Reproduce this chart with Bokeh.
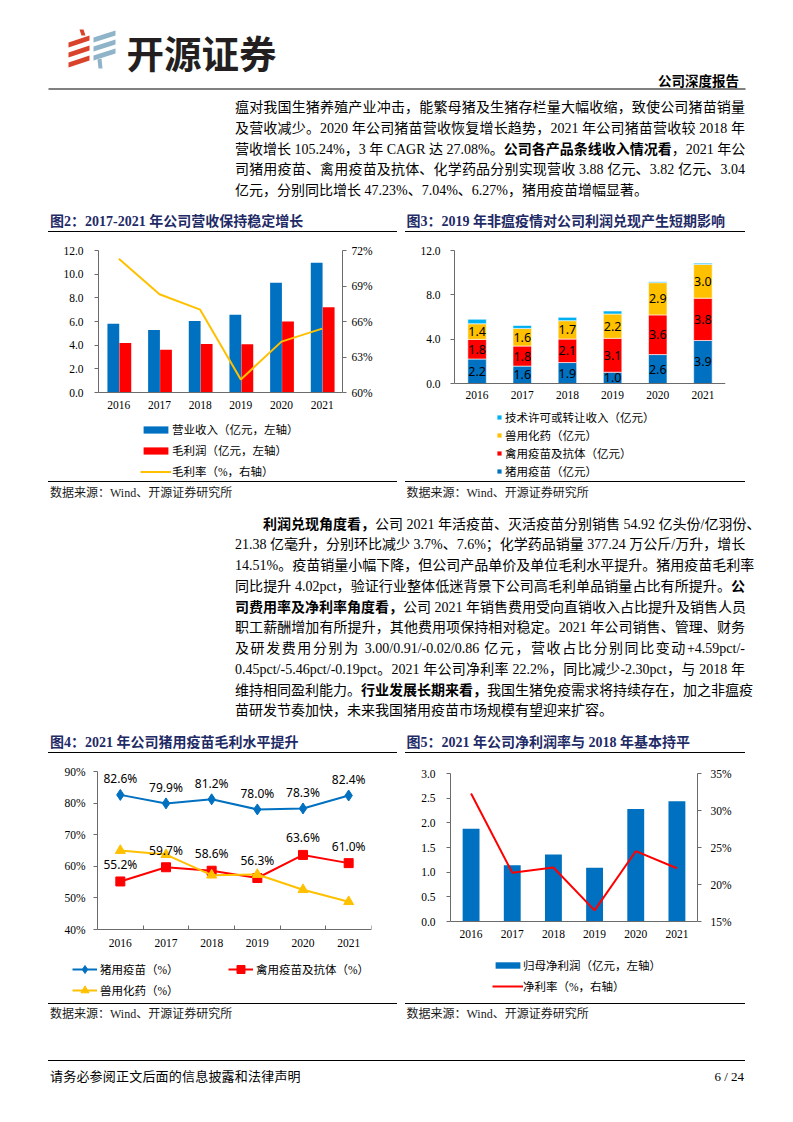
from bokeh.plotting import figure
from bokeh.models import (ColumnDataSource, FactorRange, Range1d, LinearAxis, FixedTicker,
                          PrintfTickFormatter, Legend, LegendItem, Div)
from bokeh.layouts import column, row
from bokeh.core.properties import value
from bokeh.transform import dodge
from bokeh.embed import file_html
from bokeh.resources import INLINE

# ---------------- data ----------------
years = ["2016", "2017", "2018", "2019", "2020", "2021"]

# Fig 2: revenue / gross profit (亿元) and gross margin (%)
revenue = [5.82, 5.28, 6.05, 6.58, 9.27, 10.96]
gross_profit = [4.18, 3.62, 4.10, 4.07, 5.99, 7.20]
gross_margin = [71.3, 68.3, 67.0, 61.1, 64.3, 65.4]

# Fig 3: revenue by product line (亿元)
pig_vaccine_rev = [2.21, 1.57, 1.89, 1.02, 2.61, 3.88]
poultry_vaccine_rev = [1.77, 1.81, 2.12, 3.06, 3.58, 3.82]
chem_drug_rev = [1.41, 1.59, 1.66, 2.19, 2.91, 3.04]
tech_license_rev = [0.41, 0.27, 0.30, 0.27, 0.09, 0.12]

# Fig 4: gross margin by product line (%)
pig_margin = [82.6, 79.9, 81.2, 78.0, 78.3, 82.4]
poultry_margin = [55.2, 59.7, 58.6, 56.3, 63.6, 61.0]
chem_margin = [65.0, 63.7, 57.2, 57.4, 52.6, 48.8]

# Fig 5: net profit (亿元) and net margin (%)
net_profit = [1.88, 1.14, 1.36, 1.09, 2.28, 2.44]
net_margin = [32.3, 21.6, 22.3, 16.5, 24.5, 22.2]

# tick labels
fig2_left_ticks = [0, 2, 4, 6, 8, 10, 12]
fig2_right_ticks = [60, 63, 66, 69, 72]
fig3_left_ticks = [0, 4, 8, 12]
fig4_left_ticks = [40, 50, 60, 70, 80, 90]
fig5_left_ticks = [0.0, 0.5, 1.0, 1.5, 2.0, 2.5, 3.0]
fig5_right_ticks = [15, 20, 25, 30, 35]

# texts
para1_lines = [
    "瘟对我国生猪养殖产业冲击，能繁母猪及生猪存栏量大幅收缩，致使公司猪苗销量",
    "及营收减少。2020 年公司猪苗营收恢复增长趋势，2021 年公司猪苗营收较 2018 年",
    "营收增长 105.24%，3 年 CAGR 达 27.08%。<b>公司各产品条线收入情况看</b>，2021 年公",
    "司猪用疫苗、禽用疫苗及抗体、化学药品分别实现营收 3.88 亿元、3.82 亿元、3.04",
    "亿元，分别同比增长 47.23%、7.04%、6.27%，猪用疫苗增幅显著。",
]
para2_lines = [
    "<b>利润兑现角度看，</b>公司 2021 年活疫苗、灭活疫苗分别销售 54.92 亿头份/亿羽份、",
    "21.38 亿毫升，分别环比减少 3.7%、7.6%；化学药品销量 377.24 万公斤/万升，增长",
    "14.51%。疫苗销量小幅下降，但公司产品单价及单位毛利水平提升。猪用疫苗毛利率",
    "同比提升 4.02pct，验证行业整体低迷背景下公司高毛利单品销量占比有所提升。<b>公</b>",
    "<b>司费用率及净利率角度看，</b>公司 2021 年销售费用受向直销收入占比提升及销售人员",
    "职工薪酬增加有所提升，其他费用项保持相对稳定。2021 年公司销售、管理、财务",
    "及研发费用分别为 3.00/0.91/-0.02/0.86 亿元，营收占比分别同比变动+4.59pct/-",
    "0.45pct/-5.46pct/-0.19pct。2021 年公司净利率 22.2%，同比减少-2.30pct，与 2018 年",
    "维持相同盈利能力。<b>行业发展长期来看，</b>我国生猪免疫需求将持续存在，加之非瘟疫",
    "苗研发节奏加快，未来我国猪用疫苗市场规模有望迎来扩容。",
]
SOURCE = "数据来源：Wind、开源证券研究所"

# ---------------- styles ----------------
BLUE = "#0070C0"
RED = "#FF0000"
YELLOW = "#FFC000"
CYAN = "#00B0F0"
NAVY = "#1F2B66"
AXC = "#6B6B6B"
SERIF_CJK = "'Liberation Serif', 'Noto Sans CJK SC'"
LABEL_FONT = "'Noto Sans', 'Noto Sans CJK SC'"


def ext_range(lo, hi, plot_px, extra_below, extra_above=0):
    """Range whose [lo, hi] spans plot_px pixels, extended by extra pixels below/above
    (room for legend and labels inside the frame)."""
    k = (hi - lo) / plot_px
    return Range1d(lo - extra_below * k, hi + extra_above * k)


def make_fig(x_range, y_range, w, h, bl, br, bt):
    p = figure(x_range=x_range, y_range=y_range, width=w, height=h,
               min_border_left=bl, min_border_right=br, min_border_top=bt, min_border_bottom=0,
               output_backend="svg", toolbar_location=None)
    p.outline_line_color = None
    p.grid.visible = False
    p.margin = 0
    return p


def style_axis(ax, tick_out, standoff):
    ax.axis_line_color = AXC
    ax.axis_line_width = 1
    ax.major_tick_line_color = AXC if tick_out else None
    ax.major_tick_out = tick_out
    ax.major_tick_in = 0
    ax.minor_tick_line_color = None
    ax.major_label_standoff = standoff
    ax.major_label_text_font = "Liberation Serif"
    ax.major_label_text_font_size = "11.5px"
    ax.major_label_text_color = "#000000"


def add_legend(p, items, loc, gw, gh, lh, sp, so):
    lg = Legend(items=items, location=loc, orientation="vertical",
                glyph_width=gw, glyph_height=gh, label_height=lh, spacing=sp,
                label_standoff=so, padding=0, margin=0,
                border_line_color=None, background_fill_alpha=0.0,
                label_text_font=SERIF_CJK, label_text_font_size="11.5px",
                label_text_color="#000000")
    p.add_layout(lg)
    return lg


# ---------------- html helpers ----------------
def txt(x, yc, s, size, lh, font=SERIF_CJK, weight="normal", color="#000000", extra=""):
    top = yc - lh / 2
    return (f'<div style="position:absolute;left:{x}px;top:{top:.2f}px;white-space:nowrap;'
            f'font-family:{font};font-size:{size}px;line-height:{lh}px;font-weight:{weight};'
            f'color:{color};{extra}">{s}</div>')


def hline(x, yc, w, t, color):
    return (f'<div style="position:absolute;left:{x}px;top:{yc - t / 2:.2f}px;width:{w}px;'
            f'height:{t}px;background:{color};"></div>')


def para_line(x, top, w, s, justify, size=14, lh=20.75):
    ta = "justify" if justify else "left"
    return (f'<div style="position:absolute;left:{x}px;top:{top:.2f}px;width:{w}px;height:{lh}px;'
            f'white-space:nowrap;text-align:{ta};text-align-last:{ta};font-family:{SERIF_CJK};'
            f'font-size:{size}px;line-height:{lh}px;color:#000000;">{s}</div>')


def box(w, h, inner):
    return Div(text=f'<div style="position:relative;width:{w}px;height:{h}px;">{inner}</div>',
               width=w, height=h, margin=0)


def title_div(w, h, text, tx, tyc, lx, lw, lyc):
    inner = txt(tx, tyc, text, 14, 18, weight="bold", color=NAVY) + hline(lx, lyc, lw, 1.4, "#000000")
    return box(w, h, inner)


def source_div(w, h, lx, lw, lyc, tx, tyc):
    inner = hline(lx, lyc, lw, 1.4, "#000000") + txt(tx, tyc, SOURCE, 12, 14, color="#1a1a1a")
    return box(w, h, inner)


# ---------------- header ----------------
hdr = figure(width=793, height=98, x_range=Range1d(0, 793), y_range=Range1d(98, 0),
             output_backend="svg", toolbar_location=None, min_border=0,
             x_axis_location=None, y_axis_location=None)
hdr.outline_line_color = None
hdr.grid.visible = False
hdr.margin = 0
red_xs = [[79, 83, 85, 81], [68, 89, 89, 68], [68, 89, 89, 68], [68, 89, 89, 68]]
red_ys = [[29, 29, 35, 35], [42, 35, 40, 47], [52, 45, 50, 57], [62, 55, 60, 67]]
blue_xs = [[93, 115, 115, 93], [93, 115, 115, 93], [93, 115, 115, 93], [97, 101, 102, 98]]
blue_ys = [[37, 30, 35, 42], [46, 39, 44, 51], [55, 48, 53, 60], [59, 58, 68, 68]]
hdr.patches(xs=red_xs, ys=red_ys, color="#D9432C", line_color=None)
hdr.patches(xs=blue_xs, ys=blue_ys, color="#8FB3C8", line_color=None)
hdr.text(x=[126], y=[51], text=["开源证券"], text_font=value("Noto Sans CJK SC"),
         text_font_style="bold", text_font_size="37.5px", text_baseline="middle", text_color="#231F20")
hdr.text(x=[738.5], y=[79.5], text=["公司深度报告"], text_font=value("Noto Sans CJK SC"),
         text_font_style="bold", text_font_size="13.5px", text_baseline="middle", text_align="right",
         text_color="#000000")
hdr.line(x=[48, 745], y=[88.5, 88.5], line_width=2, line_color="#808080")

# ---------------- paragraph 1 ----------------
LH = 20.75
p1_inner = "".join(para_line(235, i * LH, 510, s, i < len(para1_lines) - 1)
                   for i, s in enumerate(para1_lines))
para1 = box(793, 108, p1_inner)

# ---------------- figure 2 ----------------
xs = [i + 0.5 for i in range(len(years))]
src2 = ColumnDataSource(dict(year=years, rev=revenue, gp=gross_profit, gm=gross_margin))
p2 = make_fig(FactorRange(*years, range_padding=0), ext_range(0, 12, 142, 88), 400, 246, 98, 58, 16)
p2.extra_y_ranges = {"pct": ext_range(60, 72, 142, 88)}
r_rev = p2.vbar(x=dodge("year", -0.135, range=p2.x_range), top="rev", width=0.29,
                source=src2, fill_color=BLUE, line_color=None)
r_gp = p2.vbar(x=dodge("year", 0.16, range=p2.x_range), top="gp", width=0.29,
               source=src2, fill_color=RED, line_color=None)
r_gm = p2.line(x="year", y="gm", y_range_name="pct", source=src2, line_color=YELLOW, line_width=2)
left2 = p2.yaxis[0]
left2.ticker = FixedTicker(ticks=fig2_left_ticks)
left2.formatter = PrintfTickFormatter(format="%.1f")
left2.bounds = (0, 12)
style_axis(left2, 4, 11)
right2 = LinearAxis(y_range_name="pct", ticker=FixedTicker(ticks=fig2_right_ticks),
                    formatter=PrintfTickFormatter(format="%d%%"), bounds=(60, 72))
p2.add_layout(right2, "right")
style_axis(right2, 4, 5)
bx2 = p2.xaxis[0]
bx2.fixed_location = 0
style_axis(bx2, 0, 8)
add_legend(p2, [LegendItem(label="营业收入（亿元，左轴）", renderers=[r_rev]),
                LegendItem(label="毛利润（亿元，左轴）", renderers=[r_gp]),
                LegendItem(label="毛利率（%，右轴）", renderers=[r_gm])],
           (42, 0), 31, 9, 18, 3, 1)

# ---------------- figure 3 ----------------
stack_keys = ["pig", "poultry", "chem", "tech"]
src3 = ColumnDataSource(dict(year=years, pig=pig_vaccine_rev, poultry=poultry_vaccine_rev,
                             chem=chem_drug_rev, tech=tech_license_rev))
p3 = make_fig(FactorRange(*years, range_padding=0), ext_range(0, 12, 133, 97), 393, 246, 54, 68, 16)
r3 = p3.vbar_stack(stack_keys, x="year", width=0.41, source=src3,
                   fill_color=[BLUE, RED, YELLOW, CYAN], line_color="white", line_width=0.6)
lab_x, lab_y, lab_t = [], [], []
base = [0.0] * len(years)
for series in [pig_vaccine_rev, poultry_vaccine_rev, chem_drug_rev]:
    for i, v in enumerate(series):
        lab_x.append(years[i])
        lab_y.append(base[i] + v / 2)
        lab_t.append(f"{v:.1f}")
        base[i] += v
p3.text(x=lab_x, y=lab_y, text=lab_t, text_align="center", text_baseline="middle",
        text_font=value(LABEL_FONT), text_font_size="12.5px", text_color="#000000")
left3 = p3.yaxis[0]
left3.ticker = FixedTicker(ticks=fig3_left_ticks)
left3.formatter = PrintfTickFormatter(format="%.1f")
left3.bounds = (0, 12)
style_axis(left3, 4, 10)
bx3 = p3.xaxis[0]
bx3.fixed_location = 0
style_axis(bx3, 0, 7)
add_legend(p3, [LegendItem(label="技术许可或转让收入（亿元）", renderers=[r3[3]]),
                LegendItem(label="兽用化药（亿元）", renderers=[r3[2]]),
                LegendItem(label="禽用疫苗及抗体（亿元）", renderers=[r3[1]]),
                LegendItem(label="猪用疫苗（亿元）", renderers=[r3[0]])],
           (42, 0), 6, 6, 18, 0, 3)

# ---------------- figure 4 ----------------
# frame spans the whole figure on the left and top (y axis drawn at x = 0)
p4 = make_fig(Range1d(-97 * len(years) / 274, len(years)), ext_range(40, 90, 158, 72, 14),
              400, 244, 0, 29, 0)
l_pig = p4.line(xs, pig_margin, line_color=BLUE, line_width=2)
m_pig = p4.scatter(xs, pig_margin, marker="diamond", size=11, fill_color=BLUE, line_color=BLUE)
l_pou = p4.line(xs, poultry_margin, line_color=RED, line_width=2)
m_pou = p4.scatter(xs, poultry_margin, marker="square", size=9, fill_color=RED, line_color=RED)
l_che = p4.line(xs, chem_margin, line_color=YELLOW, line_width=2)
m_che = p4.scatter(xs, chem_margin, marker="triangle", size=10, fill_color=YELLOW, line_color=YELLOW)
p4.text(x=xs, y=pig_margin, text=[f"{v:.1f}%" for v in pig_margin], y_offset=-16,
        text_align="center", text_baseline="middle", text_font=value(LABEL_FONT),
        text_font_size="12px", text_color="#000000")
p4.text(x=xs, y=poultry_margin, text=[f"{v:.1f}%" for v in poultry_margin], y_offset=-17,
        text_align="center", text_baseline="middle", text_font=value(LABEL_FONT),
        text_font_size="12px", text_color="#000000")
left4 = p4.yaxis[0]
left4.ticker = FixedTicker(ticks=fig4_left_ticks)
left4.formatter = PrintfTickFormatter(format="%d%%")
left4.bounds = (40, 90)
left4.fixed_location = 0
style_axis(left4, 4, 8)
bx4 = p4.xaxis[0]
bx4.fixed_location = 40
bx4.bounds = (0, len(years))
style_axis(bx4, 0, 9)
bx4.ticker = FixedTicker(ticks=xs, minor_ticks=list(range(1, len(years) + 1)))
bx4.major_label_overrides = {x: y for x, y in zip(xs, years)}
bx4.minor_tick_line_color = AXC
bx4.minor_tick_in = 4
bx4.minor_tick_out = 0
add_legend(p4, [LegendItem(label="猪用疫苗（%）", renderers=[l_pig, m_pig])], (72, 22), 25, 20, 20, 0, 3)
add_legend(p4, [LegendItem(label="禽用疫苗及抗体（%）", renderers=[l_pou, m_pou])], (228, 22), 25, 20, 20, 0, 3)
add_legend(p4, [LegendItem(label="兽用化药（%）", renderers=[l_che, m_che])], (72, 1), 25, 20, 20, 0, 3)

# ---------------- figure 5 ----------------
src5 = ColumnDataSource(dict(year=years, np_=net_profit, nm=net_margin))
p5 = make_fig(FactorRange(*years, range_padding=0), ext_range(0, 3, 148, 80), 393, 244, 50, 96, 16)
p5.extra_y_ranges = {"pct": ext_range(15, 35, 148, 80)}
r_np = p5.vbar(x="year", top="np_", width=0.41, source=src5, fill_color=BLUE, line_color=None)
r_nm = p5.line(x="year", y="nm", y_range_name="pct", source=src5, line_color=RED, line_width=2)
left5 = p5.yaxis[0]
left5.ticker = FixedTicker(ticks=fig5_left_ticks)
left5.formatter = PrintfTickFormatter(format="%.1f")
left5.bounds = (0, 3)
style_axis(left5, 4, 11)
right5 = LinearAxis(y_range_name="pct", ticker=FixedTicker(ticks=fig5_right_ticks),
                    formatter=PrintfTickFormatter(format="%d%%"), bounds=(15, 35))
p5.add_layout(right5, "right")
style_axis(right5, 4, 9)
bx5 = p5.xaxis[0]
bx5.fixed_location = 0
style_axis(bx5, 0, 8)
add_legend(p5, [LegendItem(label="归母净利润（亿元，左轴）", renderers=[r_np]),
                LegendItem(label="净利率（%，右轴）", renderers=[r_nm])],
           (42, 6), 31, 8, 18, 3, 0)

# ---------------- titles / sources ----------------
t2 = title_div(400, 28, "图2：2017-2021 年公司营收保持稳定增长", 50, 15.7, 48, 349, 25.7)
t3 = title_div(393, 28, "图3：2019 年非瘟疫情对公司利润兑现产生短期影响", 6.5, 15.7, 5, 340, 25.7)
s2 = source_div(400, 20, 48, 349, 1.7, 50, 12.5)
s3 = source_div(393, 20, 5, 340, 1.7, 6.5, 12.5)
t4 = title_div(400, 28, "图4：2021 年公司猪用疫苗毛利水平提升", 50, 14.3, 48, 349, 23.7)
t5 = title_div(393, 28, "图5：2021 年公司净利润率与 2018 年基本持平", 6.5, 14.3, 5, 340, 23.7)
s4 = source_div(400, 23, 48, 349, 2.3, 50, 12.5)
s5 = source_div(393, 23, 5, 340, 2.3, 6.5, 12.5)

# ---------------- paragraph 2 ----------------
p2_parts = []
for i, s in enumerate(para2_lines):
    top = 14.6 + i * LH
    if i == 0:
        p2_parts.append(para_line(263, top, 482, s, True))
    else:
        p2_parts.append(para_line(235, top, 510, s, i < len(para2_lines) - 1))
para2 = box(793, 229, "".join(p2_parts))

# ---------------- footer ----------------
foot_inner = (hline(48, 36.5, 697, 1.5, "#000000")
              + txt(50, 52.7, "请务必参阅正文后面的信息披露和法律声明", 13, 16, extra="letter-spacing:0.2px;")
              + f'<div style="position:absolute;right:49px;top:{52.7 - 8:.1f}px;white-space:nowrap;'
                f'font-family:{SERIF_CJK};font-size:13px;line-height:16px;color:#000;">6 / 24</div>')
footer = box(793, 70, foot_inner)

cell2 = column(t2, p2, s2, spacing=0)
cell3 = column(t3, p3, s3, spacing=0)
cell4 = column(t4, p4, s4, spacing=0)
cell5 = column(t5, p5, s5, spacing=0)

layout = column(hdr, para1, row(cell2, cell3, spacing=0), para2, row(cell4, cell5, spacing=0),
                footer, spacing=0)

with open("out.html", "w", encoding="utf-8") as f:
    f.write(file_html(layout, INLINE, title="开源证券 公司深度报告"))
